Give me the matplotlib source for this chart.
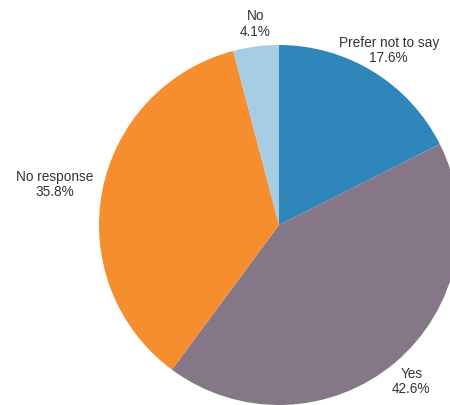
import matplotlib.pyplot as plt

labels = ['Prefer not to say', 'Yes', 'No response', 'No']
shares = [17.6, 42.6, 35.8, 4.1]
colors = ['#2e86bb', '#857787', '#f68d2e', '#a6cde3']

# label anchor points in data units (pie radius = 1)
label_xy = [(0.61, 0.97), (0.735, -0.87), (-1.245, 0.225), (-0.13, 1.115)]

plt.rcParams['font.family'] = ['Liberation Sans', 'DejaVu Sans']

fig = plt.figure(figsize=(4.5, 4.05), dpi=100)
ax = fig.add_axes([0, 0, 1, 1])
ax.pie(shares, colors=colors, startangle=90, counterclock=False,
       normalize=True, wedgeprops={'linewidth': 0})
ax.set_xlim(-1.55, 0.95)
ax.set_ylim(-1.0, 1.25)
ax.set_aspect('equal')
ax.axis('off')

for name, val, (x, y) in zip(labels, shares, label_xy):
    ax.text(x, y, f'{name}\n{val:.1f}%', ha='center', va='center',
            fontsize=9.8, color='#333333', linespacing=1.15)

fig.savefig('out.png', dpi=100)
